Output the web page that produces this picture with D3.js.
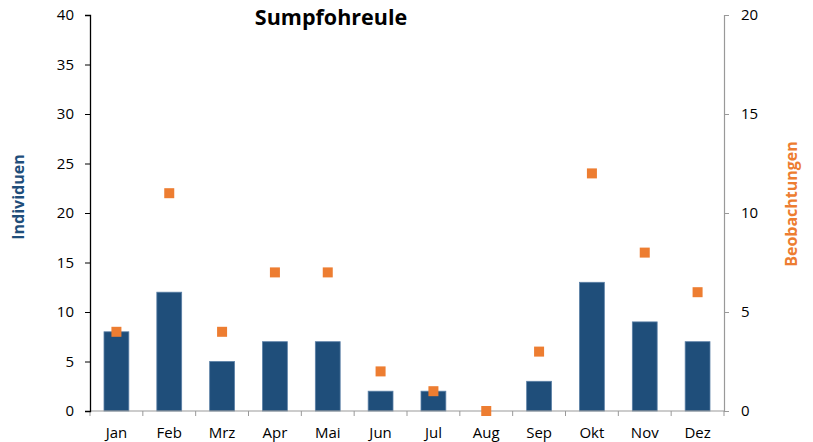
<!DOCTYPE html>
<html><head><meta charset="utf-8">
<script src="https://cdn.jsdelivr.net/npm/d3@7"></script>
<style>body{margin:0;background:#fff}svg{display:block}text{font-family:"Open Sans","Noto Sans",sans-serif}</style>
</head><body>
<svg id="c" width="813" height="442"></svg>
<script>
const months = ["Jan","Feb","Mrz","Apr","Mai","Jun","Jul","Aug","Sep","Okt","Nov","Dez"];
const individuen = [8,12,5,7,7,2,2,0,3,13,9,7];
const beobachtungen = [4,11,4,7,7,2,1,0,3,12,8,6];
const leftTicks = [0,5,10,15,20,25,30,35,40];
const rightTicks = [0,5,10,15,20];

const svg = d3.select("#c");
const L = 90, R = 724, T = 15, B = 411;
const x = d3.scaleBand().domain(months).range([L,R]).paddingInner(0.53).paddingOuter(0.265);
const xb = d3.scaleBand().domain(months).range([L,R]);
const yL = d3.scaleLinear().domain([0,40]).range([B,T]);
const yR = d3.scaleLinear().domain([0,20]).range([B,T]);

// bars
svg.append("g").selectAll("rect").data(months).join("rect")
  .attr("x", d=>x(d)).attr("width", x.bandwidth())
  .attr("y", (d,i)=>yL(individuen[i])).attr("height",(d,i)=>B-yL(individuen[i]))
  .attr("fill","#1f4e7a").attr("stroke","#5a7fa6").attr("stroke-width",0.8);

// x axis
const gx = svg.append("g").attr("transform",`translate(0,${B})`);
gx.append("line").attr("x1",L).attr("x2",R).attr("stroke","#999").attr("stroke-width",1.2);
const bounds = months.map(m=>xb(m)).concat([R]);
gx.selectAll(".tk").data(bounds).join("line").attr("x1",d=>d).attr("x2",d=>d).attr("y1",0).attr("y2",5).attr("stroke","#999");
gx.selectAll("text").data(months).join("text")
  .attr("x",d=>xb(d)+xb.bandwidth()/2).attr("y",27).attr("text-anchor","middle")
  .attr("font-size",15).attr("fill","#000").text(d=>d);

// left axis
const gl = svg.append("g").attr("transform",`translate(${L},0)`)
  .call(d3.axisLeft(yL).tickValues(leftTicks).tickSize(5).tickPadding(11));
gl.select(".domain").attr("stroke","#000").attr("stroke-width",1.3);
gl.selectAll(".tick line").attr("stroke","#000");
gl.selectAll(".tick text").attr("font-size",15).attr("fill","#000").attr("font-family","'Open Sans','Noto Sans',sans-serif");

// right axis
const gr = svg.append("g").attr("transform",`translate(${R},0)`)
  .call(d3.axisRight(yR).tickValues(rightTicks).tickSize(5).tickPadding(12));
gr.select(".domain").attr("stroke","#999").attr("stroke-width",1.2);
gr.selectAll(".tick line").attr("stroke","#999");
gr.selectAll(".tick text").attr("font-size",15).attr("fill","#000").attr("font-family","'Open Sans','Noto Sans',sans-serif");

// squares
const s = 10;
svg.append("g").selectAll("rect").data(months).join("rect")
  .attr("x", d=>xb(d)+xb.bandwidth()/2 - s/2).attr("y",(d,i)=>yR(beobachtungen[i])-s/2)
  .attr("width",s).attr("height",s).attr("fill","#ed7d31");

// title
svg.append("text").attr("x",331).attr("y",25).attr("text-anchor","middle")
  .attr("font-size",21.5).attr("font-weight","bold").attr("fill","#000").text("Sumpfohreule");

// axis titles
svg.append("text").attr("transform","translate(24,197) rotate(-90)").attr("text-anchor","middle")
  .attr("font-size",16).attr("font-weight","bold").attr("fill","#1f4e7a").text("Individuen");
svg.append("text").attr("transform","translate(797,204) rotate(-90)").attr("text-anchor","middle")
  .attr("font-size",16).attr("font-weight","bold").attr("fill","#ed7d31").text("Beobachtungen");
</script>
</body></html>
